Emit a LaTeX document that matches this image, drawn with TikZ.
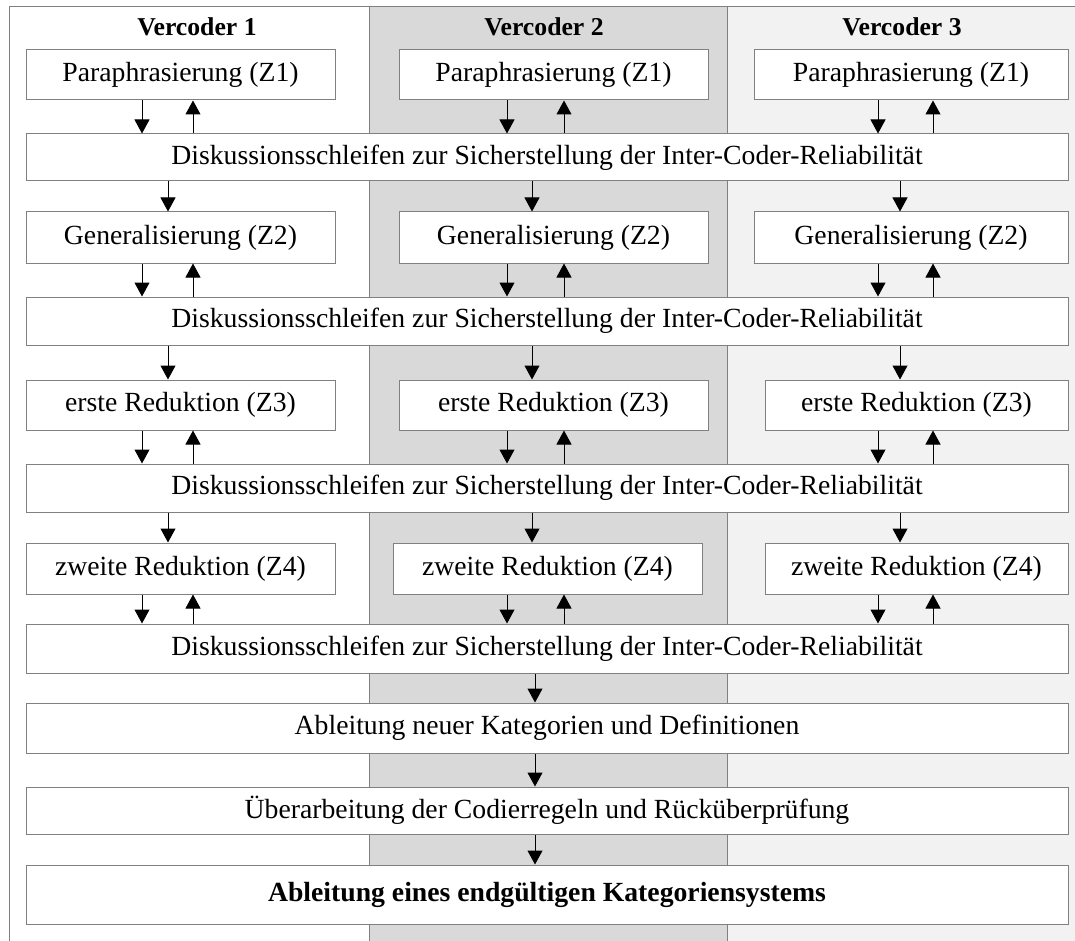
\documentclass[tikz,border=0pt]{standalone}
\usepackage{fontspec}
\setmainfont{Liberation Serif}
\usetikzlibrary{arrows.meta}
\definecolor{boxline}{HTML}{808080}
\definecolor{coltwo}{HTML}{D9D9D9}
\definecolor{colthree}{HTML}{F2F2F2}
% box with corners (x1,y1) and (x2,y2)
\newcommand\cellbox[6]{%
  \node[box, minimum width={(#4)-(#2)}, minimum height={(#5)-(#3)}]
    (#1) at ({((#2)+(#4))/2},{((#3)+(#5))/2}) {#6};}
\begin{document}
\begin{tikzpicture}[x=1pt,y=-1pt,
  box/.style={draw=boxline, fill=white, line width=1pt, inner sep=0pt,
    font=\fontsize{27.7}{32}\selectfont},
  head/.style={inner sep=0pt, font=\fontsize{25.7}{30}\selectfont\bfseries},
  arr/.style={line width=1pt, -{Triangle[width=15pt,length=14pt]}},
  frame/.style={draw=boxline, line width=1pt},
]
\useasboundingbox (0,0) rectangle (1075,941);
% column backgrounds
\fill[white] (0,0) rectangle (1075,941);
\fill[coltwo] (369,7) rectangle (727,941);
\fill[colthree] (727,7) rectangle (1075,941);
\draw[frame] (9,941) -- (9,7) -- (1075,7);
\draw[frame] (369,7) -- (369,941);
\draw[frame] (727,7) -- (727,941);

% headers
\node[head] (h1) at (197,27) {Vercoder 1};
\node[head] (h2) at (544,27) {Vercoder 2};
\node[head] (h3) at (902,27) {Vercoder 3};

% step boxes per coder
\cellbox{r1c1}{26}{50}{335}{100}{Paraphrasierung (Z1)}
\cellbox{r1c2}{399}{50}{708}{100}{Paraphrasierung (Z1)}
\cellbox{r1c3}{754}{50}{1068}{100}{Paraphrasierung (Z1)}
\cellbox{r2c1}{26}{212}{335}{263}{Generalisierung (Z2)}
\cellbox{r2c2}{399}{212}{708}{263}{Generalisierung (Z2)}
\cellbox{r2c3}{754}{212}{1068}{263}{Generalisierung (Z2)}
\cellbox{r3c1}{26}{380}{335}{430}{erste Reduktion (Z3)}
\cellbox{r3c2}{399}{380}{708}{430}{erste Reduktion (Z3)}
\cellbox{r3c3}{765}{380}{1068}{430}{erste Reduktion (Z3)}
\cellbox{r4c1}{26}{543}{335}{594}{zweite Reduktion (Z4)}
\cellbox{r4c2}{393}{543}{702}{594}{zweite Reduktion (Z4)}
\cellbox{r4c3}{765}{543}{1068}{594}{zweite Reduktion (Z4)}

% shared boxes
\cellbox{d1}{26}{134}{1068}{181}{Diskussionsschleifen zur Sicherstellung der Inter-Coder-Reliabilität}
\cellbox{d2}{26}{297}{1068}{345}{Diskussionsschleifen zur Sicherstellung der Inter-Coder-Reliabilität}
\cellbox{d3}{26}{464}{1068}{512}{Diskussionsschleifen zur Sicherstellung der Inter-Coder-Reliabilität}
\cellbox{d4}{26}{624}{1068}{673}{Diskussionsschleifen zur Sicherstellung der Inter-Coder-Reliabilität}
\cellbox{kat}{26}{703}{1068}{753}{Ableitung neuer Kategorien und Definitionen}
\cellbox{reg}{26}{787}{1068}{834}{Überarbeitung der Codierregeln und Rücküberprüfung}
\cellbox{fin}{26}{865}{1068}{924}{\bfseries Ableitung eines endgültigen Kategoriensystems}

% arrow lanes
\coordinate (dn1) at (142,0);
\coordinate (up1) at (193,0);
\coordinate (in1) at (168,0);
\coordinate (dn2) at (507,0);
\coordinate (up2) at (564,0);
\coordinate (in2) at (532,0);
\coordinate (dn3) at (878,0);
\coordinate (up3) at (933,0);
\coordinate (in3) at (900,0);
\coordinate (mid) at (535,0);

% loops between each coder and the discussion round
\foreach \r/\d in {r1/d1, r2/d2, r3/d3, r4/d4}{
  \foreach \c in {1,2,3}{
    \draw[arr] (\r c\c.south -| dn\c) -- (\d.north -| dn\c);
    \draw[arr] (\d.north -| up\c) -- (\r c\c.south -| up\c);
  }
}
% discussion round to next step
\foreach \d/\r in {d1/r2, d2/r3, d3/r4}{
  \foreach \c in {1,2,3}{
    \draw[arr] (\d.south -| in\c) -- (\r c\c.north -| in\c);
  }
}
\draw[arr] (d4.south -| mid) -- (kat.north -| mid);
\draw[arr] (kat.south -| mid) -- (reg.north -| mid);
\draw[arr] (reg.south -| mid) -- (fin.north -| mid);
\end{tikzpicture}
\end{document}
